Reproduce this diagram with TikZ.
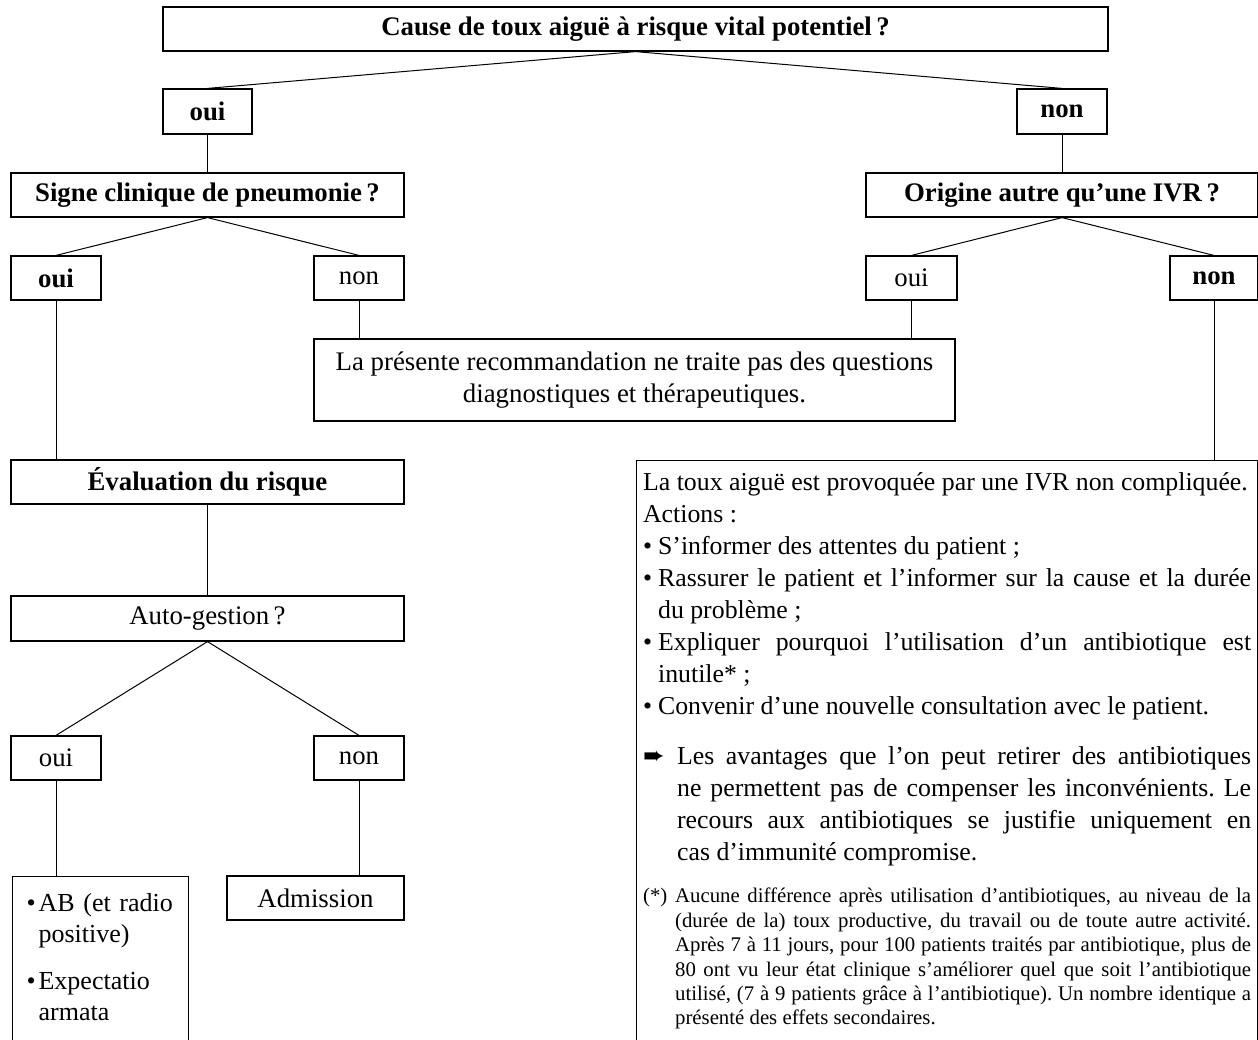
\documentclass[tikz,border=0pt]{standalone}
\usepackage{fontspec}
\setmainfont{Liberation Serif}
\newfontfamily\flechefont{DejaVu Sans}
\usetikzlibrary{positioning}

\newcommand{\puce}[2][7.5pt]{\par\noindent\hangindent=#1\hangafter=1\makebox[#1][l]{\textbullet}#2}
\newcommand{\renvoi}[3]{\par\noindent\hangindent=#1\hangafter=1\makebox[#1][l]{#2}#3}

\tikzset{
  box/.style={draw, line width=0.6pt, inner sep=0pt, minimum height=22pt, align=center, font=\fontsize{13.4}{16}\selectfont},
  boxb/.style={box, font=\fontsize{13.4}{16}\selectfont\bfseries},
  link/.style={line width=0.5pt},
}

\begin{document}
\begin{tikzpicture}[x=0.5pt, y=-0.5pt]
  \useasboundingbox (0,0) rectangle (1258,1039);

  % question de depart
  \node[boxb, minimum width=472.5pt] (cause) at (635.5,29) {Cause de toux aiguë à risque vital potentiel\,?};
  \node[boxb, minimum width=44.5pt, minimum height=22.5pt] (oui) at (207.5,111.5) {oui};
  \node[boxb, minimum width=45pt, minimum height=22.5pt] (non) at (1062,111.5) {non};

  \node[boxb, minimum width=196.5pt] (pneu) at (207.5,195) {Signe clinique de pneumonie\,?};
  \node[boxb, minimum width=196pt] (orig) at (1062,195) {Origine autre qu'une IVR\,?};

  \node[boxb, minimum width=45pt] (pneuoui) at (56,278) {oui};
  \node[box, minimum width=45pt] (pneunon) at (359,278) {non};
  \node[box, minimum width=45.5pt] (origoui) at (911.5,278) {oui};
  \node[boxb, minimum width=44pt] (orignon) at (1214,278) {non};

  \node[box, minimum width=320.5pt, minimum height=41pt] (hors) at (634.5,380)
    {La présente recommandation ne traite pas des questions\\diagnostiques et thérapeutiques.};

  % branche pneumonie
  \node[boxb, minimum width=196.5pt] (risque) at (207.5,482) {Évaluation du risque};
  \node[box, minimum width=196.5pt, minimum height=22.5pt] (auto) at (207.5,618.5) {Auto-gestion\,?};
  \node[box, minimum width=45pt] (autooui) at (56,758) {oui};
  \node[box, minimum width=45pt] (autonon) at (359,758) {non};
  \node[box, anchor=north west, text width=74pt, inner xsep=7pt, inner ysep=2pt, align=left,
        font=\fontsize{13}{15.5}\selectfont] (ab) at (12,876)
    {\puce[6pt]{AB (et radio\hfil\break positive)}\par\vspace{8pt}\puce[6pt]{Expectatio\hfil\break armata}\par\rule{0pt}{40pt}};
  \node[box, minimum width=88.5pt] (admis) at (315.5,898) {Admission};

  % branche IVR
  \node[box, anchor=north west, text width=304pt, inner xsep=3.25pt, inner ysep=6pt, align=justify,
        font=\fontsize{12.9}{16}\selectfont] (conseil) at (636,460) {%
    \frenchspacing\hyphenpenalty=10000\exhyphenpenalty=10000
    \noindent La toux aiguë est provoquée par une IVR non compliquée.\par
    \noindent Actions~:
    \puce{S'informer des attentes du patient~;}
    \puce{Rassurer le patient et l'informer sur la cause et la durée\linebreak{} du problème~;}
    \puce{Expliquer pourquoi l'utilisation d'un antibiotique est inutile*~;}
    \puce{Convenir d'une nouvelle consultation avec le patient.}
    \par\vspace{9pt}
    \renvoi{17pt}{{\flechefont ➨}}{Les avantages que l'on peut retirer des antibiotiques\linebreak{} ne permettent pas de compenser les inconvénients. Le\linebreak{} recours aux antibiotiques se justifie uniquement en\linebreak{} cas d'immunité compromise.}
    \par\vspace{9pt}
    {\fontsize{10.4}{12.2}\selectfont
    \renvoi{16pt}{(*)}{Aucune différence après utilisation d'antibiotiques, au niveau de la\linebreak{} (durée de la) toux productive, du travail ou de toute autre activité.\linebreak{} Après 7 à 11 jours, pour 100 patients traités par antibiotique, plus de\linebreak{} 80 ont vu leur état clinique s'améliorer quel que soit l'antibiotique\linebreak{} utilisé, (7 à 9 patients grâce à l'antibiotique). Un nombre identique a\linebreak{} présenté des effets secondaires.}\par}
    \rule{0pt}{30pt}};

  \draw[link] (cause.south) -- (oui.north);
  \draw[link] (cause.south) -- (non.north);
  \draw[link] (oui) -- (pneu);
  \draw[link] (non) -- (orig);
  \draw[link] (pneu.south) -- (pneuoui.north);
  \draw[link] (pneu.south) -- (pneunon.north);
  \draw[link] (orig.south) -- (origoui.north);
  \draw[link] (orig.south) -- (orignon.north);
  \draw[link] (pneuoui.south) -- (pneuoui.south |- risque.north);
  \draw[link] (pneunon.south) -- (pneunon.south |- hors.north);
  \draw[link] (origoui.south) -- (origoui.south |- hors.north);
  \draw[link] (orignon.south) -- (orignon.south |- conseil.north);
  \draw[link] (risque) -- (auto);
  \draw[link] (auto.south) -- (autooui.north);
  \draw[link] (auto.south) -- (autonon.north);
  \draw[link] (autooui.south) -- (autooui.south |- ab.north);
  \draw[link] (autonon.south) -- (autonon.south |- admis.north);
\end{tikzpicture}
\end{document}
